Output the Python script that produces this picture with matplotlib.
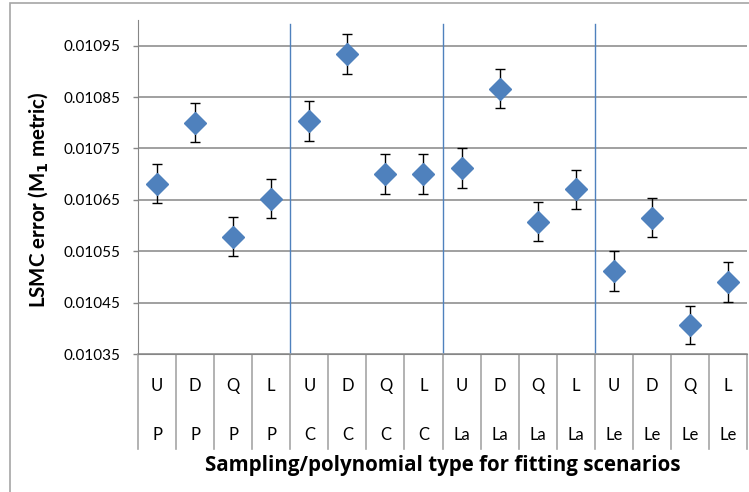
import matplotlib
matplotlib.use("Agg")
import matplotlib.pyplot as plt
from matplotlib.patches import Rectangle
from matplotlib.transforms import blended_transform_factory

plt.rcParams['font.family'] = ['Lato', 'DejaVu Sans']

# data
sampling = ["U", "D", "Q", "L"] * 4
polys = ["P"] * 4 + ["C"] * 4 + ["La"] * 4 + ["Le"] * 4
lsmc_err = [0.010681, 0.010800, 0.010578, 0.010652,
            0.010804, 0.010933, 0.010701, 0.010701,
            0.010712, 0.010866, 0.010607, 0.010671,
            0.010511, 0.010615, 0.010406, 0.010490]
err_bar = [0.000038, 0.000038, 0.000038, 0.000038,
           0.000039, 0.000039, 0.000039, 0.000039,
           0.000038, 0.000038, 0.000038, 0.000038,
           0.000039, 0.000038, 0.000037, 0.000039]
yticks = [0.01035, 0.01045, 0.01055, 0.01065, 0.01075, 0.01085, 0.01095]

W, H = 749, 492
fig = plt.figure(figsize=(W / 100, H / 100), dpi=100)
ax = fig.add_axes([138 / W, (H - 354) / H, (747 - 138) / W, (354 - 20) / H])

# outer chart frame
fig.patches.append(Rectangle((10 / W, -0.1), 1.2, (H - 3) / H + 0.1,
                             transform=fig.transFigure, fill=False,
                             edgecolor="#a6a6a6", lw=1.2))

n = len(lsmc_err)
xs = list(range(1, n + 1))

ax.set_xlim(0.5, n + 0.5)
ax.set_ylim(0.01035, 0.0110)
ax.set_yticks(yticks)
ax.set_yticklabels(["%.5f" % v for v in yticks])
ax.yaxis.grid(True, color="#868686", lw=1.1)
ax.set_axisbelow(True)

for s in ["top", "right"]:
    ax.spines[s].set_visible(False)
ax.spines["left"].set_color("#868686")
ax.spines["bottom"].set_color("#868686")
ax.tick_params(axis="y", length=3.6, width=1, color="#868686", pad=9, labelsize=11)
ax.set_xticks([])

# group separators
for b in [4.5, 8.5, 12.5]:
    ax.axvline(b, ymin=0, ymax=0.988, color="#4f81bd", lw=1)

ax.errorbar(xs, lsmc_err, yerr=err_bar, fmt="D", color="#4f81bd", ms=11,
            ecolor="black", elinewidth=1, capsize=3.5, capthick=1, zorder=3)

# two-level category axis
tr = blended_transform_factory(ax.transData, ax.transAxes)
depth = -(449 - 354) / 334
for i in range(n + 1):
    ax.plot([i + 0.5, i + 0.5], [0, depth], transform=tr, clip_on=False,
            color="#a6a6a6", lw=1.2)
for x, s, p in zip(xs, sampling, polys):
    ax.text(x, -(386 - 354) / 334, s, transform=tr, ha="center", va="center",
            fontsize=12)
    ax.text(x, -(435 - 354) / 334, p, transform=tr, ha="center", va="center",
            fontsize=12)

ax.text(0.5, -(466 - 354) / 334, "Sampling/polynomial type for fitting scenarios",
        transform=ax.transAxes, ha="center", va="center", fontsize=14.8,
        fontweight="bold", family=["Open Sans", "DejaVu Sans"])
fig.text(39 / W, 1 - 200 / H, "LSMC error (M$_\\mathbf{1}$ metric)", rotation=90,
         ha="center", va="center", fontsize=14.8, fontweight="bold")

fig.savefig("out.png", dpi=100)
